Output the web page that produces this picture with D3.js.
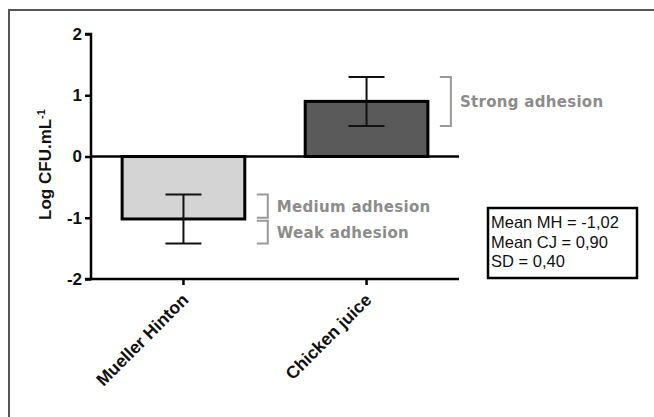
<!DOCTYPE html>
<html>
<head>
<meta charset="utf-8">
<script src="https://cdn.jsdelivr.net/npm/d3@7"></script>
<style>
  body { margin: 0; background: #fff; }
  svg { display: block; }
</style>
</head>
<body>
<div id="chart"></div>
<script>
// data
var categories = ["Mueller Hinton", "Chicken juice"];
var means = [-1.02, 0.90];
var errors = [0.40, 0.40];
var yTicks = [-2, -1, 0, 1, 2];

var bandNames = ["Strong adhesion", "Medium adhesion", "Weak adhesion"];
var bandFrom = [0.5, -0.62, -1.05];
var bandTo = [1.3, -1.0, -1.42];
var bandSide = [1, 0, 0]; // which bar the bracket sits next to

var statLines = ["Mean MH = -1,02", "Mean CJ = 0,90", "SD = 0,40"];

var svgWidth = 654;
var svgHeight = 417;

var plot = { left: 91, right: 459, top: 34, bottom: 279 };

var svg = d3.select("#chart")
  .append("svg")
  .attr("width", svgWidth)
  .attr("height", svgHeight);

// frame, only top and left edges show
svg.append("path")
  .attr("d", `M9,${svgHeight} L9,10 L${svgWidth},10`)
  .attr("fill", "none")
  .attr("stroke", "#555")
  .attr("stroke-width", 2);

var yScale = d3.scaleLinear()
  .domain([-2, 2])
  .range([plot.bottom, plot.top]);

var xScale = d3.scaleBand()
  .domain(categories)
  .range([plot.left, plot.right])
  .paddingInner(0.33)
  .paddingOuter(0.17);

var fills = d3.scaleOrdinal()
  .domain(categories)
  .range(["#d4d4d4", "#5a5a5a"]);

var rows = categories.map((c, i) => ({ name: c, mean: means[i], err: errors[i] }));

// y axis
var yAxis = d3.axisLeft(yScale)
  .tickValues(yTicks)
  .tickFormat(d => String(d))
  .tickSize(6)
  .tickPadding(3);

var yG = svg.append("g")
  .attr("transform", `translate(${plot.left},0)`)
  .call(yAxis);
yG.select(".domain").attr("stroke-width", 2.5).attr("d", `M-6,${plot.top}H0V${plot.bottom}H-6`);
yG.selectAll(".tick line").attr("stroke-width", 2.5);
yG.selectAll("text")
  .style("font", "bold 17px 'Liberation Sans', Arial, sans-serif")
  .attr("fill", "#111");

// x axis at the bottom of the range
var xAxis = d3.axisBottom(xScale).tickSize(6).tickFormat("");
var xG = svg.append("g")
  .attr("transform", `translate(0,${plot.bottom})`)
  .call(xAxis);
xG.select(".domain").attr("stroke-width", 2.5).attr("d", `M${plot.left},0H${plot.right}`);
xG.selectAll(".tick line").attr("stroke-width", 2.5);

xG.selectAll(".tick")
  .append("text")
  .attr("transform", "translate(6,22) rotate(-45)")
  .attr("text-anchor", "end")
  .attr("fill", "#111")
  .style("font", "bold 17.5px 'Liberation Sans', Arial, sans-serif")
  .text(d => d);

// bars
svg.selectAll(".bar")
  .data(rows)
  .enter()
  .append("rect")
  .attr("class", "bar")
  .attr("x", d => xScale(d.name))
  .attr("width", xScale.bandwidth())
  .attr("y", d => yScale(Math.max(0, d.mean)))
  .attr("height", d => Math.abs(yScale(d.mean) - yScale(0)))
  .attr("fill", d => fills(d.name))
  .attr("stroke", "#000")
  .attr("stroke-width", 3);

// zero line
svg.append("line")
  .attr("x1", plot.left)
  .attr("x2", plot.right)
  .attr("y1", yScale(0))
  .attr("y2", yScale(0))
  .attr("stroke", "#000")
  .attr("stroke-width", 2.5);

// error bars
var capHalf = 18;
var errG = svg.selectAll(".err")
  .data(rows)
  .enter()
  .append("g")
  .attr("class", "err")
  .attr("stroke", "#111")
  .attr("stroke-width", 2);

errG.append("line")
  .attr("x1", d => xScale(d.name) + xScale.bandwidth() / 2)
  .attr("x2", d => xScale(d.name) + xScale.bandwidth() / 2)
  .attr("y1", d => yScale(d.mean + d.err))
  .attr("y2", d => yScale(d.mean - d.err));
errG.append("line")
  .attr("x1", d => xScale(d.name) + xScale.bandwidth() / 2 - capHalf)
  .attr("x2", d => xScale(d.name) + xScale.bandwidth() / 2 + capHalf)
  .attr("y1", d => yScale(d.mean + d.err))
  .attr("y2", d => yScale(d.mean + d.err));
errG.append("line")
  .attr("x1", d => xScale(d.name) + xScale.bandwidth() / 2 - capHalf)
  .attr("x2", d => xScale(d.name) + xScale.bandwidth() / 2 + capHalf)
  .attr("y1", d => yScale(d.mean - d.err))
  .attr("y2", d => yScale(d.mean - d.err));

// adhesion brackets
var brackets = bandNames.map((n, i) => ({ name: n, from: bandFrom[i], to: bandTo[i], bar: categories[bandSide[i]] }));
var armLen = 11;
var brG = svg.selectAll(".bracket")
  .data(brackets)
  .enter()
  .append("g")
  .attr("class", "bracket")
  .attr("transform", d => `translate(${xScale(d.bar) + xScale.bandwidth() + 12},0)`);

brG.append("path")
  .attr("d", d => `M0,${yScale(d.from)}H${armLen}V${yScale(d.to)}H0`)
  .attr("fill", "none")
  .attr("stroke", "#999")
  .attr("stroke-width", 2);

brG.append("text")
  .attr("x", armLen + 9)
  .attr("y", d => (yScale(d.from) + yScale(d.to)) / 2)
  .attr("dy", "0.36em")
  .attr("fill", "#8c8c8c")
  .style("font", "bold 15px 'DejaVu Sans', Verdana, sans-serif")
  .style("letter-spacing", "0.3px")
  .text(d => d.name);

// stats box
var box = svg.append("g").attr("transform", "translate(488,208)");
box.append("rect")
  .attr("width", 149)
  .attr("height", 70)
  .attr("fill", "#fff")
  .attr("stroke", "#000")
  .attr("stroke-width", 2.5);
box.selectAll("text")
  .data(statLines)
  .enter()
  .append("text")
  .attr("x", 3)
  .attr("y", (d, i) => 20 + i * 19.5)
  .attr("fill", "#111")
  .style("font", "16.5px 'Liberation Sans', Arial, sans-serif")
  .text(d => d);

// y axis title
var yTitle = svg.append("text")
  .attr("transform", `translate(51,${(plot.top + plot.bottom) / 2 + 8}) rotate(-90)`)
  .attr("text-anchor", "middle")
  .attr("fill", "#111")
  .style("font", "bold 17px 'Liberation Sans', Arial, sans-serif");
yTitle.append("tspan").text("Log CFU.mL");
yTitle.append("tspan")
  .attr("dy", "-0.55em")
  .style("font-size", "11px")
  .text("-1");
</script>
</body>
</html>
